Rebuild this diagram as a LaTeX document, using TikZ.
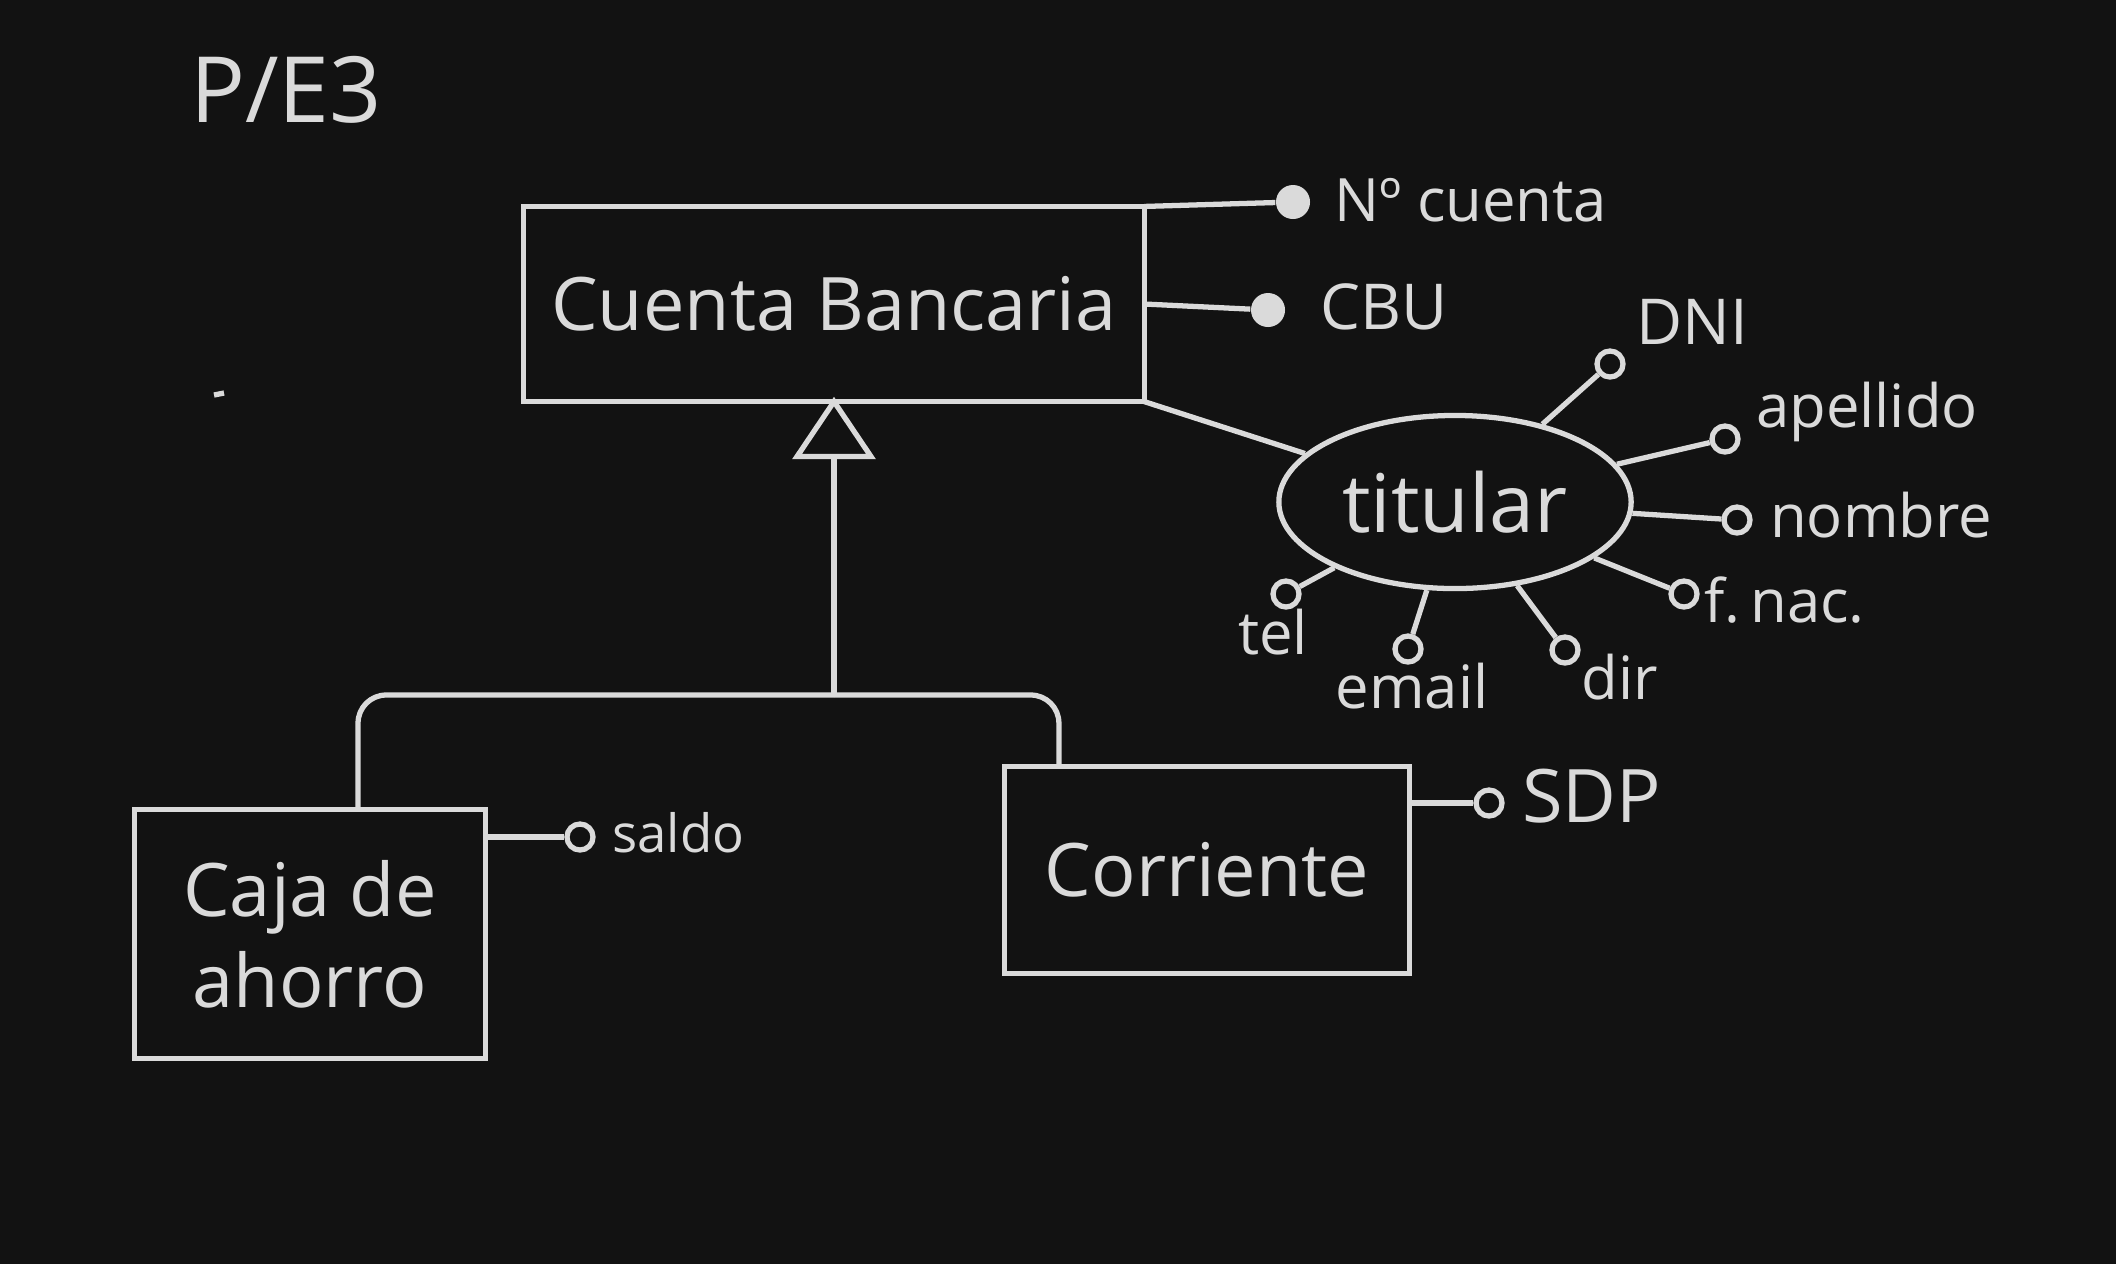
\documentclass[tikz,border=0pt]{standalone}
\usepackage{fontspec}
\setmainfont{Open Sans}
\usetikzlibrary{shapes.geometric}

\definecolor{pizarra}{HTML}{121212}
\definecolor{tiza}{HTML}{DADADA}

\tikzset{
  linea/.style={draw=tiza, line width=1.5pt},
  entidad/.style={linea, text=tiza, align=center, font=\fontsize{21}{26}\selectfont},
  relacion/.style={linea, ellipse, text=tiza, font=\fontsize{23}{26}\selectfont, minimum width=3.41cm, minimum height=1.73cm},
  clave/.style={circle, fill=tiza, minimum size=0.34cm, inner sep=0pt},
  atrib/.style={circle, linea, minimum size=0.26cm, inner sep=0pt},
  etiq/.style={text=tiza, font=\fontsize{17}{20}\selectfont, inner sep=1pt},
}

\begin{document}
\begin{tikzpicture}[x=0.01cm, y=-0.01cm]
% Background
\useasboundingbox (0,0) rectangle (2116,1263);
\fill[pizarra] (-10,-10) rectangle (2126,1273);

% Title
\node[etiq, font=\fontsize{26}{30}\selectfont] (titulo) at (286,90) {P/E3};
\draw[linea] (214,395) -- (224,393);

% Entities
\node[entidad, minimum width=6.2cm, minimum height=1.95cm, outer sep=0pt] (cuenta) at (834,304) {Cuenta Bancaria};
\node[entidad, minimum width=3.51cm, minimum height=2.49cm] (caja) at (310,934) {Caja de\\ahorro};
\node[entidad, minimum width=4.05cm, minimum height=2.07cm] (corriente) at (1207,870) {Corriente};
\node[relacion] (titular) at (1455,502) {titular};

% Keys of Cuenta Bancaria
\node[clave] (ncuenta) at (1293,202) {};
\node[clave] (cbu) at (1268,310) {};
\node[etiq, anchor=west] (ncuentaL) at (1330,200) {Nº cuenta};
\node[etiq, anchor=west, font=\fontsize{18}{20}\selectfont] (cbuL) at (1316,307) {CBU};
\draw[linea] (cuenta.north east) -- (ncuenta);
\draw[linea] (cuenta.east) -- (cbu);

% titular and its attributes
\draw[linea] (cuenta.south east) -- (titular);
\node[atrib] (dni) at (1610,364) {};
\node[atrib] (apellido) at (1725,439) {};
\node[atrib] (nombre) at (1737,520) {};
\node[atrib] (fnac) at (1684,594) {};
\node[atrib] (tel) at (1286,594) {};
\node[atrib] (email) at (1408,649) {};
\node[atrib] (dir) at (1565,650) {};
\node[etiq, anchor=west, font=\fontsize{18}{20}\selectfont] (dniL) at (1632,322) {DNI};
\node[etiq, anchor=west] (apellidoL) at (1752,412) {apellido};
\node[etiq, anchor=west] (nombreL) at (1766,515) {nombre};
\node[etiq, anchor=west] (fnacL) at (1700,600) {f.\,nac.};
\node[etiq] (telL) at (1273,632) {tel};
\node[etiq] (emailL) at (1412,686) {email};
\node[etiq] (dirL) at (1620,677) {dir};
\foreach \a in {dni,apellido,nombre,fnac,tel,email,dir}
  \draw[linea] (titular) -- (\a);

% Inheritance
\node[linea, isosceles triangle, shape border rotate=90, isosceles triangle stretches,
      minimum height=0.55cm, minimum width=0.74cm, inner sep=0pt, outer sep=0pt, anchor=apex] (flecha) at (cuenta.south) {};
\coordinate (union) at (834,695);
\draw[linea] (flecha.south) -- (union);
\draw[linea, rounded corners=8pt] (union) -| ([xshift=0.48cm]caja.north);
\draw[linea, rounded corners=8pt] (union) -| ([xshift=-1.48cm]corriente.north);

% Attributes of the subtypes
\node[atrib] (saldo) at (580,837) {};
\node[etiq, anchor=west, font=\fontsize{15}{18}\selectfont] (saldoL) at (608,833) {saldo};
\draw[linea] (saldo -| caja.east) -- (saldo);
\node[atrib] (sdp) at (1489,803) {};
\node[etiq, anchor=west, font=\fontsize{21}{24}\selectfont] (sdpL) at (1518,796) {SDP};
\draw[linea] (sdp -| corriente.east) -- (sdp);
\end{tikzpicture}
\end{document}
